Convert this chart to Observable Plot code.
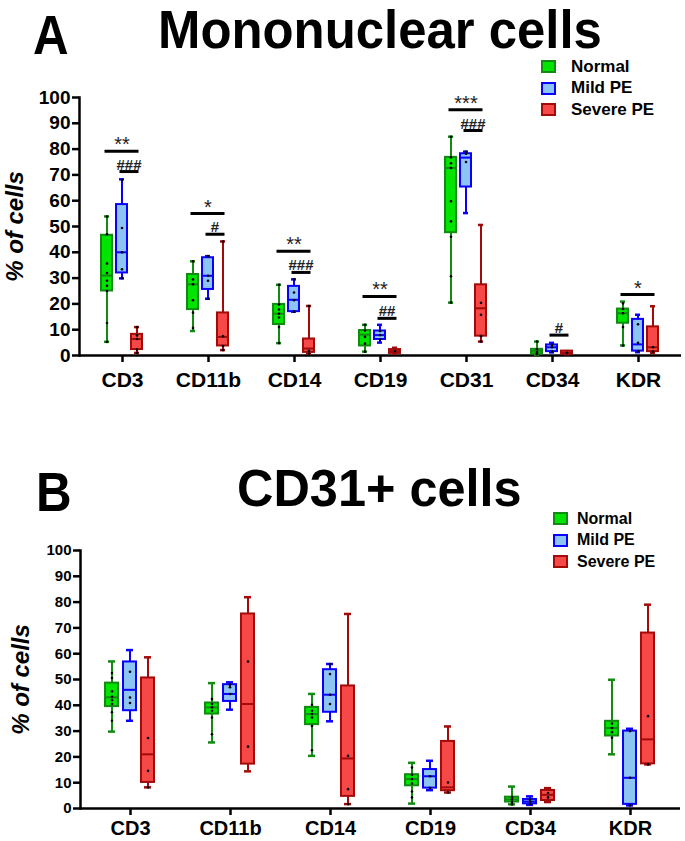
<!DOCTYPE html>
<html><head><meta charset="utf-8">
<script src="https://cdn.jsdelivr.net/npm/d3@7"></script>
<script src="https://cdn.jsdelivr.net/npm/@observablehq/plot@0.6"></script>
<style>
body{margin:0;background:#fff;font-family:"Liberation Sans",Arial,sans-serif;color:#000;}
#fig{position:relative;width:685px;height:841px;overflow:hidden;background:#fff;}
.ttl{position:absolute;font-weight:bold;line-height:1;white-space:nowrap;transform-origin:left top;}
.leg{position:absolute;font-weight:bold;}
.leg .row{display:flex;align-items:center;height:21.5px;}
.leg .sw{display:inline-block;box-sizing:border-box;border:2px solid;width:15px;height:13px;}
.panel{position:absolute;left:0;}
</style></head><body><div id="fig"></div>
<script>
const groups = ["Normal", "Mild PE", "Severe PE"];
const fills = ["#00e400", "#8cc4f4", "#f74848"];
const strokes = ["#138a13", "#0a00ff", "#a30a0a"];
const yTicks = [0, 10, 20, 30, 40, 50, 60, 70, 80, 90, 100];

// Panel A — [min, q1, median, q3, max] per category
const catsA = ["CD3", "CD11b", "CD14", "CD19", "CD31", "CD34", "KDR"];
const aNormal = [[5.3,25,31,46.6,53.9],[9.5,17.8,27.6,31.4,36.5],[4.8,12,16.2,19.8,27.4],[1.5,3.7,8.1,9.7,11.9],[20.5,47.6,72.7,76.8,84.8],[0.3,0.6,1.8,2.4,5.4],[3.9,12.5,16.4,18,20.9]];
const aMild = [[29.9,32,40,58.5,68.3],[22,25.6,30.9,37.9,38.5],[17,17,21.6,26.8,29.5],[5,6.2,7.9,9.5,11.9],[55.2,65.3,76.7,78.2,79],[1.2,1.5,3.2,4.1,4.9],[1.3,1.7,4.3,14,15.8]];
const aSevere = [[1,2.3,6.4,8.2,11],[2.1,3.7,7.2,16.5,44.2],[0.8,1.2,2.7,6.4,19.2],[0.8,0.8,1.7,2.3,3],[5.4,7.5,18.3,27.4,50.6],[0.5,0.5,1,1.7,1.7],[1,1.5,3.2,11.1,19.1]];
const aNormalPts = [[53.9,47,35.6,32,29,27,25,12.6,5.3],[36.5,29.5,27.6,21.4,16.6,10.7],[27.4,19.8,17.8,16.2,14.7,11,4.8],[11.9,9.7,7.2,4.6,1.5],[84.8,76.8,74.5,72.7,59.8,52,46,30.7,20.5],[5.4,2.4,1.2,0.5],[20.2,18,16.4,11,3.9]];
const aMildPts = [[68,49.4,40,33.4,30],[38.5,30.9,29,22],[29.5,24.4,21.4,17],[9.5,7.9,6.2],[79,78.2,75],[4.1,3.2,1.5],[12.1,4.9,1.7]];
const aSeverePts = [[11,7.8,6.4,2.3,1],[44.2,7.5,3.7,2.1],[19.2,1.8,0.8],[1.7],[20.4,15.8,7.5,5.4],[1],[3.2,1.5]];
// significance: Normal vs Severe PE (stars), Mild PE vs Severe PE (hashes)
const aStarCats = ["CD3", "CD11b", "CD14", "CD19", "CD31", "KDR"];
const aStarY = [79.2, 55, 40.4, 22.9, 95.3, 23.6];
const aStarLbl = ["**", "*", "**", "**", "***", "*"];
const aHashCats = ["CD3", "CD11b", "CD14", "CD19", "CD31", "CD34"];
const aHashY = [71.3, 47, 32.2, 14.4, 87.2, 7.9];
const aHashLbl = ["###", "#", "###", "##", "###", "#"];

// Panel B
const catsB = ["CD3", "CD11b", "CD14", "CD19", "CD34", "KDR"];
const bNormal = [[29.8,39.5,43.1,48.6,57],[25.6,36.6,39.2,40.9,48.6],[20.4,32.5,36.6,39.2,44.4],[1.9,8.8,11.4,13.1,17.7],[1.6,2.5,3.5,4.4,8.5],[21,28.1,31.2,33.8,49.9]];
const bMild = [[34,37.9,46,56.8,61.4],[38.3,41.5,44.4,48,48.9],[33.8,37.3,44.1,53.8,56],[7.1,7.9,12.5,15.1,18.5],[1.4,1.8,2.7,3.5,4.7],[1.2,1.6,11.9,30,30.9]];
const bSevere = [[8.2,10.1,21,50.6,58.6],[14.4,17.2,40.5,75.4,81.9],[1.7,4.7,19.4,47.5,75.4],[6.2,6.9,8.2,26,31.8],[2.5,3.1,5.3,7,7.9],[17.1,17.3,26.8,68,79]];
const bNormalPts = [[52.5,50.6,45.4,43.3,42,40.5,37.3,34],[42.4,40.5,39.2,37.9,35.3,28.8],[40.2,37.9,36.6,35.3,32,22.6],[15.9,13.1,11.4,9.7,6.6,4.3],[4.4,3.5,2.5,1.6],[32.9,31.2,29.6,27.4]];
const bMildPts = [[53,43,40.9],[48,47,44.4],[56,52.1,44.1,40.5],[12.5,7.9],[3.5,2.7,1.8],[30,11.9,1.2]];
const bSeverePts = [[27.3,14.6,8.2],[57,24],[20.4,7.5,1.7],[10.1,6.2],[6,4.3],[35.8,17.1]];

const fillOf = g => fills[groups.indexOf(g)];
const strokeOf = g => strokes[groups.indexOf(g)];

function buildRows(cats, statsByGroup) {
  const rows = [];
  cats.forEach((cat, ci) => groups.forEach((group, gi) => {
    const [min, q1, med, q3, max] = statsByGroup[gi][ci];
    rows.push({cat, group, min, q1, med, q3, max});
  }));
  return rows;
}
function buildPts(cats, ptsByGroup) {
  const pts = [];
  cats.forEach((cat, ci) => groups.forEach((group, gi) => {
    ptsByGroup[gi][ci].forEach(v => pts.push({cat, group, v}));
  }));
  return pts;
}

function panel(o) {
  const rows = buildRows(o.cats, o.stats);
  const pts = buildPts(o.cats, o.pts);
  const stars = (o.starCats || []).map((cat, i) => ({cat, y: o.starY[i], label: o.starLbl[i], from: "Normal", mid: "Mild PE", to: "Severe PE"}));
  const hashes = (o.hashCats || []).map((cat, i) => ({cat, y: o.hashY[i], label: o.hashLbl[i], from: "Mild PE", to: "Severe PE"}));
  return Plot.plot({
    width: 685, height: o.height,
    marginLeft: 77, marginRight: 3, marginTop: o.marginTop, marginBottom: o.marginBottom,
    style: {fontFamily: "'Liberation Sans', Arial, sans-serif", color: "#000", background: "transparent", overflow: "visible"},
    fx: {domain: o.cats, padding: 0, label: null},
    x: {domain: groups, paddingInner: o.padInner, paddingOuter: o.padOuter, axis: null},
    y: {domain: [0, 100], axis: null},
    color: {type: "identity"},
    marks: [
      Plot.ruleY([0], {strokeWidth: 2.5}),
      Plot.frame({anchor: "left", facetAnchor: "left", strokeWidth: 2.5}),
      Plot.axisY({ticks: yTicks, tickSize: 7, strokeWidth: 2.5, tickPadding: 2, fontSize: o.yFont, fontWeight: "bold", label: null}),
      Plot.axisFx({anchor: "bottom", tickSize: 7, strokeWidth: 2.5, tickPadding: o.xPad, fontSize: o.xFont, fontWeight: "bold", label: null}),
      Plot.text(["% of cells"], {frameAnchor: "left", facetAnchor: "left", textAnchor: "middle", rotate: -90, dx: o.labelDx, fontSize: 24, fontWeight: "bold", fontStyle: "italic"}),
      Plot.ruleX(rows, {fx: "cat", x: "group", y1: "min", y2: "max", stroke: d => strokeOf(d.group), strokeWidth: 2}),
      Plot.tickY(rows, {fx: "cat", x: "group", y: "min", stroke: d => strokeOf(d.group), strokeWidth: 2.5, insetLeft: 3, insetRight: 3}),
      Plot.tickY(rows, {fx: "cat", x: "group", y: "max", stroke: d => strokeOf(d.group), strokeWidth: 2.5, insetLeft: 3, insetRight: 3}),
      Plot.barY(rows, {fx: "cat", x: "group", y1: "q1", y2: "q3", fill: d => fillOf(d.group), stroke: d => strokeOf(d.group), strokeWidth: 2}),
      Plot.tickY(rows, {fx: "cat", x: "group", y: "med", stroke: d => strokeOf(d.group), strokeWidth: 2}),
      Plot.dot(pts, {fx: "cat", x: "group", y: "v", r: 1.3, fill: "#000"}),
      Plot.ruleY(stars, {fx: "cat", x1: "from", x2: "to", y: "y", strokeWidth: 3, insetLeft: 3.5, insetRight: 3.5}),
      Plot.text(stars, {fx: "cat", x: "mid", y: "y", text: "label", lineAnchor: "bottom", dy: 0, fontSize: 20, fill: "#222"}),
      Plot.ruleY(hashes, {fx: "cat", x1: "from", x2: "to", y: "y", strokeWidth: 3, insetLeft: 3.5, insetRight: 3.5}),
      Plot.text(hashes, {fx: "cat", x: "to", y: "y", text: "label", lineAnchor: "bottom", dx: o.hashDx, dy: -2, fontSize: 15, fontWeight: "bold", fill: "#222"})
    ]
  });
}

const fig = document.getElementById("fig");
function addTitle(text, left, top, size, sx) {
  const d = document.createElement("div");
  d.className = "ttl"; d.textContent = text;
  d.style.left = left + "px"; d.style.top = top + "px"; d.style.fontSize = size + "px";
  d.style.transform = `scaleX(${sx})`;
  fig.appendChild(d);
}
function addLegend(left, top, fontSize, gap) {
  const L = document.createElement("div");
  L.className = "leg"; L.style.left = left + "px"; L.style.top = top + "px"; L.style.fontSize = fontSize + "px";
  groups.forEach((g, i) => {
    const r = document.createElement("div"); r.className = "row";
    const s = document.createElement("span"); s.className = "sw";
    s.style.background = fills[i]; s.style.borderColor = strokes[i]; s.style.marginRight = gap + "px";
    const t = document.createElement("span"); t.textContent = g;
    r.appendChild(s); r.appendChild(t); L.appendChild(r);
  });
  fig.appendChild(L);
}

const pA = panel({cats: catsA, stats: [aNormal, aMild, aSevere], pts: [aNormalPts, aMildPts, aSeverePts],
  starCats: aStarCats, starY: aStarY, starLbl: aStarLbl, hashCats: aHashCats, hashY: aHashY, hashLbl: aHashLbl,
  height: 320, marginTop: 17, marginBottom: 45, padInner: 0.25, padOuter: 1.325, yFont: 19, xFont: 21, xPad: 10, labelDx: -64, hashDx: -8});
pA.classList.add("panel"); pA.style.top = "80px"; fig.appendChild(pA);

const pB = panel({cats: catsB, stats: [bNormal, bMild, bSevere], pts: [bNormalPts, bMildPts, bSeverePts],
  height: 311, marginTop: 20, marginBottom: 33, padInner: 0.263, padOuter: 1.285, yFont: 15, xFont: 20, xPad: 5, labelDx: -59, hashDx: -9.5});
pB.classList.add("panel"); pB.style.top = "530px"; fig.appendChild(pB);

addTitle("A", 33, 7, 56, 0.88);
addTitle("Mononuclear cells", 158, 3, 53, 0.96);
addTitle("B", 36, 464, 56, 0.88);
addTitle("CD31+ cells", 237, 462, 52, 0.97);
addLegend(541, 56, 17, 15);
addLegend(553, 508, 16, 9);
</script></body></html>
